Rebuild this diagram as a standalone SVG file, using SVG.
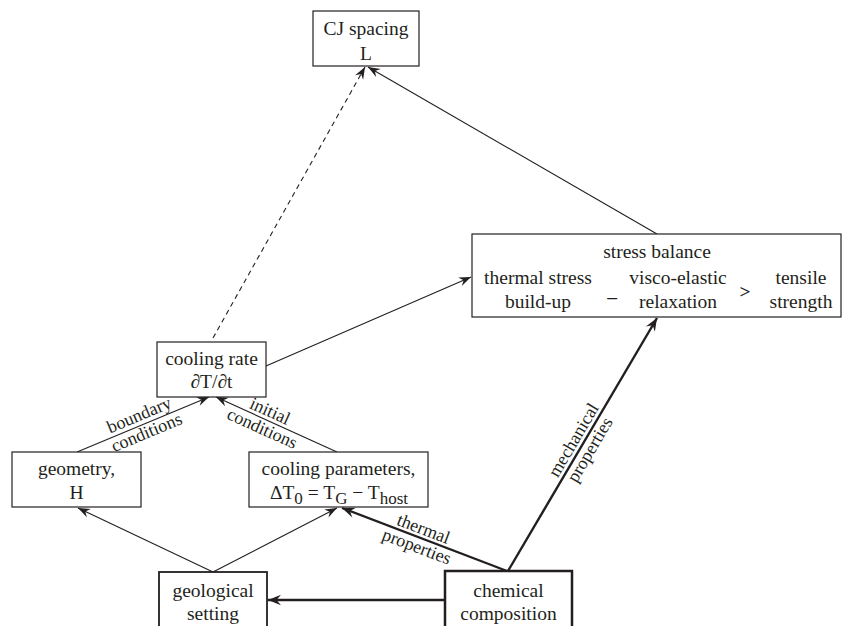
<svg xmlns="http://www.w3.org/2000/svg" width="843" height="626" viewBox="0 0 843 626">
<defs>
<style>
.box{fill:#fff;stroke:#231f20;stroke-width:1.2}
.t{font-family:"Liberation Serif","Times New Roman",serif;font-size:19.5px;fill:#231f20;text-anchor:middle}
.lbl{font-family:"Liberation Serif","Times New Roman",serif;font-size:18px;fill:#231f20;text-anchor:middle}
.c{fill:none;stroke:#231f20;stroke-width:1.1}
.ck{fill:none;stroke:#231f20;stroke-width:2.4}
.d{stroke-dasharray:5 4}
</style>
<marker id="ah" markerUnits="userSpaceOnUse" viewBox="-13 -6 14 12" refX="0" refY="0" markerWidth="14" markerHeight="12" orient="auto">
<path d="M0,0 L-12,-4.6 L-8,0 L-12,4.6 Z" fill="#231f20"/>
</marker>
<marker id="ahk" markerUnits="userSpaceOnUse" viewBox="-15 -7 16 14" refX="0" refY="0" markerWidth="16" markerHeight="14" orient="auto">
<path d="M0,0 L-13,-5.2 L-8.5,0 L-13,5.2 Z" fill="#231f20"/>
</marker>
</defs>
<rect width="843" height="626" fill="#fff"/>

<g id="connectors">
<path class="c d" d="M213,338 L365,67" marker-end="url(#ah)"/>
<path class="c" d="M657,234 L368,67" marker-end="url(#ah)"/>
<path class="c" d="M266,366 L471,277" marker-end="url(#ah)"/>
<path class="c" d="M77,452 L209,397" marker-end="url(#ah)"/>
<path class="c" d="M337,452 L216,397" marker-end="url(#ah)"/>
<path class="c" d="M213,572 L78,508" marker-end="url(#ah)"/>
<path class="c" d="M213,572 L337,508" marker-end="url(#ah)"/>
<path class="ck" d="M507,571 L342,508" marker-end="url(#ahk)"/>
<path class="ck" d="M508,571 L657,318" marker-end="url(#ahk)"/>
<path class="ck" d="M445,600 L268,600" marker-end="url(#ahk)"/>
<g transform="translate(143,424) rotate(-22.8)">
<text class="lbl" x="0" y="-4">boundary</text>
<text class="lbl" x="0" y="15">conditions</text>
</g>
<g transform="translate(266,420) rotate(24.3)">
<text class="lbl" x="0" y="-4">initial</text>
<text class="lbl" x="0" y="15">conditions</text>
</g>
<g transform="translate(420,538) rotate(20.9)">
<text class="lbl" x="0" y="-4">thermal</text>
<text class="lbl" x="0" y="15">properties</text>
</g>
<g transform="translate(582,445) rotate(-59.4)">
<text class="lbl" x="0" y="-4">mechanical</text>
<text class="lbl" x="0" y="15">properties</text>
</g>
</g>

<g id="cj-spacing">
<rect class="box" x="313" y="11" width="106" height="55"/>
<text class="t" x="366" y="35">CJ spacing</text>
<text class="t" x="366" y="60">L</text>
</g>

<g id="stress-balance">
<rect class="box" x="472" y="234" width="369" height="83"/>
<text class="t" x="657" y="258">stress balance</text>
<text class="t" x="538" y="284">thermal stress</text>
<text class="t" x="538" y="308">build-up</text>
<text class="t" x="612" y="303" font-weight="bold">–</text>
<text class="t" x="745" y="298" font-weight="bold">&gt;</text>
<text class="t" x="678" y="284">visco-elastic</text>
<text class="t" x="678" y="308">relaxation</text>
<text class="t" x="801" y="284">tensile</text>
<text class="t" x="801" y="308">strength</text>
</g>

<g id="cooling-rate">
<rect class="box" x="157" y="342" width="109" height="55"/>
<text class="t" x="211.5" y="365">cooling rate</text>
<text class="t" x="211.5" y="388">∂T/∂t</text>
</g>

<g id="geometry">
<rect class="box" x="12" y="452" width="129" height="55"/>
<text class="t" x="76.5" y="475">geometry,</text>
<text class="t" x="76.5" y="499">H</text>
</g>

<g id="cooling-parameters">
<rect class="box" x="249" y="452" width="179" height="55"/>
<text class="t" x="338.5" y="475">cooling parameters,</text>
<text class="t" x="339" y="499">ΔT<tspan font-size="17" dy="5">0</tspan><tspan dy="-5"> = T</tspan><tspan font-size="17" dy="5">G</tspan><tspan dy="-5"> − T</tspan><tspan font-size="17" dy="5">host</tspan></text>
</g>

<g id="geological-setting">
<rect class="box" x="159" y="572" width="108" height="60" style="stroke-width:1.8"/>
<text class="t" x="213" y="597">geological</text>
<text class="t" x="213" y="620">setting</text>
</g>

<g id="chemical-composition">
<rect class="box" x="445" y="571" width="127" height="62" style="stroke-width:2.5"/>
<text class="t" x="508.5" y="597">chemical</text>
<text class="t" x="508.5" y="620">composition</text>
</g>
</svg>
